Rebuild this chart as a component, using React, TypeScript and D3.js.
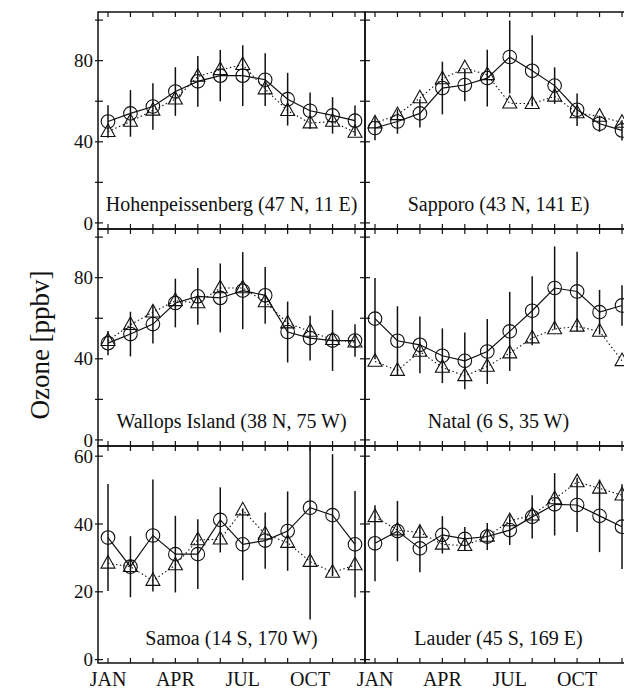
import React from "react";
import * as d3 from "d3";

const months = [1, 2, 3, 4, 5, 6, 7, 8, 9, 10, 11, 12];
const monthTicks = [1, 4, 7, 10];
const monthLabels = ["JAN", "APR", "JUL", "OCT"];

const stationNames = [
  "Hohenpeissenberg (47 N, 11 E)",
  "Sapporo (43 N, 141 E)",
  "Wallops Island (38 N, 75 W)",
  "Natal (6 S, 35 W)",
  "Samoa (14 S, 170 W)",
  "Lauder (45 S, 169 E)",
];

const hohenCircle = [50, 54, 57.4, 64.8, 69.8, 72.6, 72.6, 70.6, 61, 55.3, 53, 50.4];
const hohenTriangle = [45, 50, 55.5, 61, 72.2, 75.5, 78, 66, 55.3, 49.2, 50, 44.6];
const hohenErr = [8, 11.5, 11.5, 12, 12.5, 12.7, 15, 13, 13, 9, 9, 7.5];

const sapporoCircle = [46.8, 50, 54, 66.5, 68, 71.4, 81.8, 75, 67.7, 55.8, 48.9, 45.6];
const sapporoTriangle = [49.2, 53.3, 61.6, 71, 76.4, 73, 59, 58.8, 62.4, 54.2, 52.5, 49.5];
const sapporoErr = [6, 6, 7, 13, 8, 14, 18, 17.5, 9, 8, 4, 5];

const wallopsCircle = [47.7, 52.2, 57.1, 67.5, 70.8, 70, 73.6, 71.3, 53.2, 50.2, 49, 49];
const wallopsTriangle = [48.9, 56.8, 63, 68.6, 67.5, 74.9, 74.9, 68, 57.6, 53.5, 49.4, 48.2];
const wallopsErr = [6, 11, 9.5, 12, 14, 17, 19, 14, 15, 11, 15, 8];

const natalCircle = [59.8, 48.9, 46.9, 41.5, 39, 43.6, 53.5, 63.7, 74.9, 73.2, 63, 66.3];
const natalTriangle = [38.7, 34.2, 43.6, 35.7, 31.6, 36.2, 42.8, 50.2, 54.7, 56, 53.5, 39];
const natalErr = [20, 17, 14, 13.5, 14, 16, 19.5, 17, 20.5, 19.6, 11, 10];

const samoaCircle = [36, 27.4, 36.6, 31.1, 31.1, 41.2, 34, 35.1, 37.9, 44.8, 42.6, 34];
const samoaTriangle = [28.4, 27.4, 23.3, 27.9, 35.3, 35.5, 44.1, 37, 34.5, 28.9, 25.7, 27.9];
const samoaErr = [15.8, 9, 16.5, 11.3, 10.3, 9.6, 10.6, 8.3, 11.7, 33, 18, 15.7];

const lauderCircle = [34.3, 37.9, 32.8, 36.8, 35.6, 36.3, 38.2, 42.1, 45.8, 45.6, 42.4, 39.2];
const lauderTriangle = [42.1, 38.2, 37.5, 34, 33.6, 36.3, 40.9, 42.6, 47.4, 52.4, 50.5, 48.5];
const lauderErr = [11.2, 8.9, 7, 5.5, 3.5, 4, 4.4, 6.4, 9.2, 8, 10.7, 12.5];

const circleSeries = [hohenCircle, sapporoCircle, wallopsCircle, natalCircle, samoaCircle, lauderCircle];
const triangleSeries = [hohenTriangle, sapporoTriangle, wallopsTriangle, natalTriangle, samoaTriangle, lauderTriangle];
const errSeries = [hohenErr, sapporoErr, wallopsErr, natalErr, samoaErr, lauderErr];

const upperTicks = [0, 20, 40, 60, 80, 100];
const upperLabels = [0, 40, 80];
const lowerTicks = [0, 20, 40, 60];
const lowerLabels = [0, 20, 40, 60];

const W = 624;
const H = 691;
const colX = [98, 365];
const rowY = [12, 229, 446];
const PW = 267;
const PH = 217;
const FONT = "'Liberation Serif', 'Times New Roman', serif";

function triPath(cx: number, cy: number, s: number) {
  const h = s * 0.9;
  return `M${cx},${cy - h * 0.62}L${cx + s / 2},${cy + h * 0.38}L${cx - s / 2},${cy + h * 0.38}Z`;
}

function Panel({ idx }: { idx: number }) {
  const col = idx % 2;
  const row = Math.floor(idx / 2);
  const x0 = colX[col];
  const y0 = rowY[row];
  const lower = row === 2;
  const x = d3.scaleLinear().domain([0.555, 12.445]).range([0, PW]);
  const y = d3
    .scaleLinear()
    .domain(lower ? [-1, 63] : [-3, 104])
    .range([PH, 0]);
  const circ = circleSeries[idx];
  const tri = triangleSeries[idx];
  const err = errSeries[idx];
  const line = d3
    .line<number>()
    .x((_, i) => x(months[i]))
    .y((d) => y(d));
  const yTicks = lower ? lowerTicks : upperTicks;
  const yLabels = lower ? lowerLabels : upperLabels;
  const clipId = `clip${idx}`;
  const tl = 5;
  return (
    <g transform={`translate(${x0},${y0})`}>
      <defs>
        <clipPath id={clipId}>
          <rect x={0} y={0} width={PW} height={PH} />
        </clipPath>
      </defs>
      <g clipPath={`url(#${clipId})`}>
        {months.map((m, i) => (
          <line
            key={"e" + i}
            x1={x(m)}
            x2={x(m)}
            y1={y(circ[i] - err[i])}
            y2={y(circ[i] + err[i])}
            stroke="#111"
            strokeWidth={1.5}
          />
        ))}
        <path d={line(tri) || ""} fill="none" stroke="#111" strokeWidth={1.1} strokeDasharray="1.5,2.5" />
        <path d={line(circ) || ""} fill="none" stroke="#111" strokeWidth={1.2} />
        {months.map((m, i) => (
          <path key={"t" + i} d={triPath(x(m), y(tri[i]), 14)} fill="none" stroke="#111" strokeWidth={1.1} />
        ))}
        {months.map((m, i) => (
          <circle key={"c" + i} cx={x(m)} cy={y(circ[i])} r={6.8} fill="none" stroke="#111" strokeWidth={1.1} />
        ))}
      </g>
      <rect x={0} y={0} width={PW} height={PH} fill="none" stroke="#111" strokeWidth={1.5} />
      {months.map((m) => (
        <g key={"xt" + m}>
          <line x1={x(m)} x2={x(m)} y1={0} y2={tl} stroke="#111" strokeWidth={1.2} />
          <line x1={x(m)} x2={x(m)} y1={PH} y2={PH - tl} stroke="#111" strokeWidth={1.2} />
        </g>
      ))}
      {yTicks.map((t) => (
        <g key={"yt" + t}>
          <line x1={col === 0 ? -3 : 0} x2={tl} y1={y(t)} y2={y(t)} stroke="#111" strokeWidth={1.2} />
          <line x1={PW} x2={PW - tl} y1={y(t)} y2={y(t)} stroke="#111" strokeWidth={1.2} />
        </g>
      ))}
      {col === 0 &&
        yLabels.map((t) => (
          <text
            key={"yl" + t}
            x={-5}
            y={y(t)}
            dy="0.35em"
            textAnchor="end"
            fontFamily={FONT}
            fontSize={19}
            fill="#111"
          >
            {t}
          </text>
        ))}
      <text x={PW / 2} y={PH - 18} textAnchor="middle" fontFamily={FONT} fontSize={20} fill="#111">
        {stationNames[idx]}
      </text>
      {row === 2 &&
        monthTicks.map((m, i) => (
          <text key={"ml" + m} x={x(m)} y={PH + 23} textAnchor="middle" fontFamily={FONT} fontSize={20} fill="#111">
            {monthLabels[i]}
          </text>
        ))}
    </g>
  );
}

export default function App() {
  return (
    <svg
      width={W}
      height={H}
      viewBox={`0 0 ${W} ${H}`}
      style={{ position: "absolute", left: 0, top: 0, background: "#fff" }}
    >
      <rect x={0} y={0} width={W} height={H} fill="#fff" />
      {[0, 1, 2, 3, 4, 5].map((i) => (
        <Panel key={i} idx={i} />
      ))}
      <text
        transform="translate(40,345) rotate(-90)"
        textAnchor="middle"
        dy="0.35em"
        fontFamily={FONT}
        fontSize={27}
        fill="#111"
      >
        Ozone [ppbv]
      </text>
    </svg>
  );
}
